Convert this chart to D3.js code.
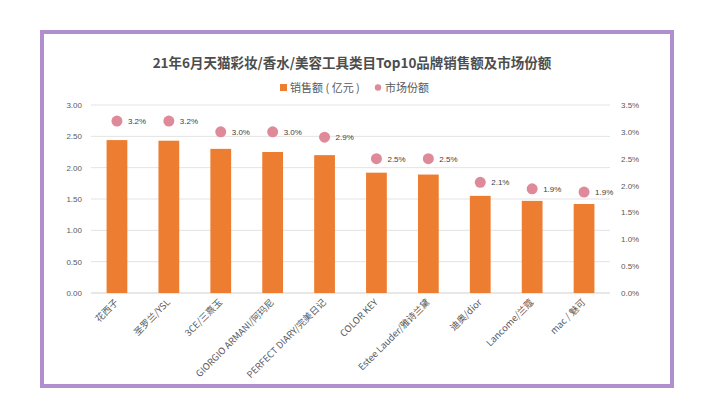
<!DOCTYPE html>
<html>
<head>
<meta charset="utf-8">
<script src="https://cdn.jsdelivr.net/npm/d3@7"></script>
<style>
  body { margin: 0; background: #fff; }
  svg text { font-family: "Noto Sans CJK SC", "Noto Sans", sans-serif; }
</style>
</head>
<body>
<script>
// chart data
const brands = ['花西子', '圣罗兰/YSL', '3CE/三熹玉', 'GIORGIO ARMANI/阿玛尼', 'PERFECT DIARY/完美日记',
  'COLOR KEY', 'Estee Lauder/雅诗兰黛', '迪奥/dior', 'Lancome/兰蔻', 'mac / 魅可'];
const sales = [2.44, 2.43, 2.30, 2.25, 2.20, 1.92, 1.89, 1.55, 1.47, 1.42];
const share = [3.2, 3.2, 3.0, 3.0, 2.9, 2.5, 2.5, 2.06, 1.94, 1.88];
const leftTicks = [0, 0.5, 1, 1.5, 2, 2.5, 3];
const rightTicks = [0, 0.5, 1, 1.5, 2, 2.5, 3, 3.5];

const W = 720, H = 405;
const margin = { top: 105, right: 110, bottom: 112, left: 91 };
const width = W - margin.left - margin.right;
const height = H - margin.top - margin.bottom;

const svg = d3.select('body').append('svg').attr('width', W).attr('height', H);

// purple frame
svg.append('rect')
  .attr('x', 42).attr('y', 32).attr('width', 630).attr('height', 354)
  .attr('fill', '#fff').attr('stroke', '#b18fcf').attr('stroke-width', 4);

svg.append('text')
  .attr('x', 352).attr('y', 68)
  .attr('text-anchor', 'middle')
  .attr('font-size', 13.5).attr('font-weight', 'bold').attr('fill', '#4d4d4d')
  .text('21年6月天猫彩妆/香水/美容工具类目Top10品牌销售额及市场份额');

// legend
const legend = svg.append('g').attr('font-size', 11).attr('fill', '#595959');
legend.append('rect').attr('x', 280).attr('y', 84).attr('width', 7).attr('height', 7).attr('fill', '#ed7d31');
legend.append('text').attr('x', 290).attr('y', 92).attr('fill', '#595959').text('销售额 ( 亿元 )');
legend.append('circle').attr('cx', 378).attr('cy', 87.5).attr('r', 3.2).attr('fill', '#df8a99');
legend.append('text').attr('x', 385).attr('y', 92).attr('fill', '#595959').text('市场份额');

const g = svg.append('g').attr('transform', `translate(${margin.left}, ${margin.top})`);

const x = d3.scaleBand().domain(brands).range([0, width]).paddingInner(0.6).paddingOuter(0.3);
const yL = d3.scaleLinear().domain([0, 3]).range([height, 0]);
const yR = d3.scaleLinear().domain([0, 3.5]).range([height, 0]);

// gridlines
g.append('g')
  .selectAll('line')
  .data(leftTicks)
  .join('line')
  .attr('x1', 0).attr('x2', width)
  .attr('y1', (d) => yL(d)).attr('y2', (d) => yL(d))
  .attr('stroke', (d) => (d === 0 ? '#d0d0d0' : '#e3e3e3'))
  .attr('stroke-width', 1);

// left axis
const leftAxis = g.append('g')
  .attr('transform', 'translate(-6, 0)')
  .call(d3.axisLeft(yL).tickValues(leftTicks).tickFormat(d3.format('.2f')).tickSize(0));
leftAxis.select('.domain').remove();
leftAxis.selectAll('text').attr('font-size', 8).attr('fill', '#595959')
  .style('font-family', 'Liberation Sans, Arial, sans-serif');

// right axis
const rightAxis = g.append('g')
  .attr('transform', `translate(${width + 8}, 0)`)
  .call(d3.axisRight(yR).tickValues(rightTicks).tickFormat((d) => d3.format('.1f')(d) + '%').tickSize(0));
rightAxis.select('.domain').remove();
rightAxis.selectAll('text').attr('font-size', 8).attr('fill', '#595959')
  .style('font-family', 'Liberation Sans, Arial, sans-serif');

// bars
g.selectAll('.bar')
  .data(brands)
  .join('rect')
  .attr('class', 'bar')
  .attr('x', (d) => x(d))
  .attr('width', x.bandwidth())
  .attr('y', (d, i) => yL(sales[i]))
  .attr('height', (d, i) => height - yL(sales[i]))
  .attr('fill', '#ed7d31');

// share markers
g.selectAll('.dot')
  .data(brands)
  .join('circle')
  .attr('class', 'dot')
  .attr('cx', (d) => x(d) + x.bandwidth() / 2)
  .attr('cy', (d, i) => yR(share[i]))
  .attr('r', 5.5)
  .attr('fill', '#df8a99');

g.selectAll('.dot-label')
  .data(brands)
  .join('text')
  .attr('class', 'dot-label')
  .attr('x', (d) => x(d) + x.bandwidth() / 2 + 11)
  .attr('y', (d, i) => yR(share[i]) + 3)
  .attr('font-size', 8).attr('fill', '#404040')
  .style('font-family', 'Liberation Sans, Arial, sans-serif')
  .text((d, i) => d3.format('.1f')(share[i]) + '%');

// category labels
g.selectAll('.cat')
  .data(brands)
  .join('text')
  .attr('class', 'cat')
  .attr('text-anchor', 'end')
  .attr('font-size', 9.3).attr('fill', '#595959')
  .attr('transform', (d) => `translate(${x(d) + x.bandwidth() / 2 + 2}, ${height + 10}) rotate(-45)`)
  .text((d) => d);
</script>
</body>
</html>
